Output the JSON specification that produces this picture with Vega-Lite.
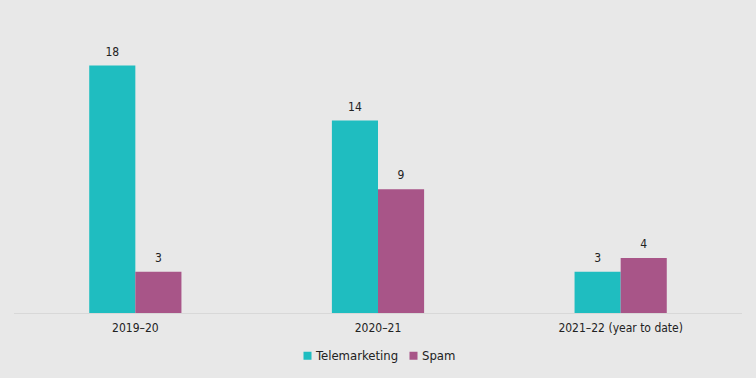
{
  "$schema": "https://vega.github.io/schema/vega-lite/v6.json",
  "width": 728,
  "height": 275,
  "padding": {"left": 14, "right": 14, "top": 38, "bottom": 16},
  "background": "#e8e8e8",
  "config": {
    "view": {"stroke": null},
    "font": "DejaVu Sans Condensed"
  },
  "data": {
    "values": [
      {"year": "2019–20", "type": "Telemarketing", "count": 18},
      {"year": "2019–20", "type": "Spam", "count": 3},
      {"year": "2020–21", "type": "Telemarketing", "count": 14},
      {"year": "2020–21", "type": "Spam", "count": 9},
      {"year": "2021–22 (year to date)", "type": "Telemarketing", "count": 3},
      {"year": "2021–22 (year to date)", "type": "Spam", "count": 4}
    ]
  },
  "encoding": {
    "x": {
      "field": "year", "type": "nominal", "sort": null, "title": null,
      "scale": {"paddingInner": 0.62, "paddingOuter": 0.31},
      "axis": {"labelAngle": 0, "ticks": false, "domainColor": "#c8c8c8", "domainDash": [1, 1], "labelFontSize": 12, "labelColor": "#222", "labelPadding": 9, "labelFont": "DejaVu Sans Condensed"}
    },
    "xOffset": {"field": "type", "type": "nominal", "sort": ["Telemarketing", "Spam"], "scale": {"paddingInner": 0}},
    "y": {"field": "count", "type": "quantitative", "scale": {"domain": [0, 20]}, "axis": null}
  },
  "layer": [
    {
      "mark": {"type": "bar"},
      "encoding": {
        "color": {
          "field": "type", "type": "nominal", "sort": ["Telemarketing", "Spam"],
          "scale": {"domain": ["Telemarketing", "Spam"], "range": ["#1fbdc0", "#a85588"]},
          "legend": {"orient": "none", "legendX": 287, "legendY": 311, "direction": "horizontal", "title": null, "symbolType": "square", "symbolSize": 64, "symbolStrokeWidth": 0, "labelFontSize": 13, "labelColor": "#222", "labelFont": "DejaVu Sans Condensed", "columnPadding": 8, "labelOffset": 2}
        }
      }
    },
    {
      "mark": {"type": "text", "dy": -14, "fontSize": 12, "color": "#222", "font": "DejaVu Sans Condensed"},
      "encoding": {"text": {"field": "count", "type": "quantitative"}}
    }
  ]
}
